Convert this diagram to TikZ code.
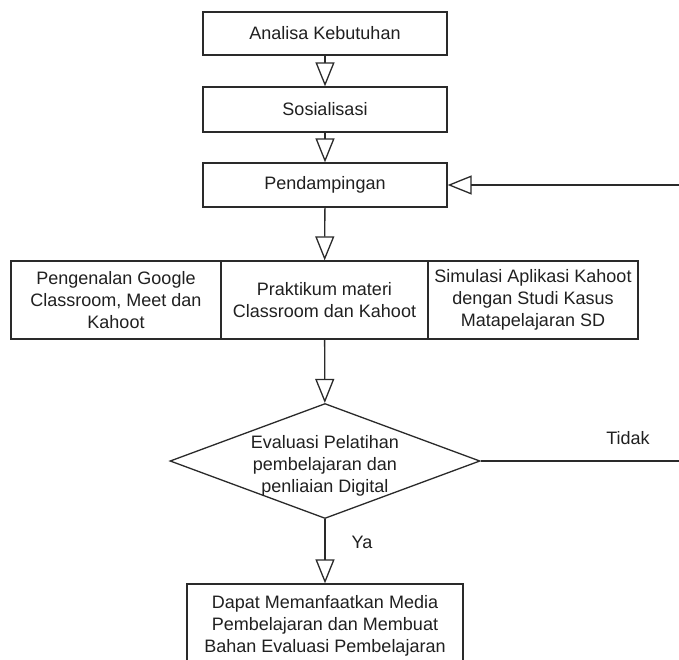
\documentclass[tikz,border=0pt]{standalone}
\usepackage{fontspec}
\setmainfont{Liberation Sans}
\usetikzlibrary{arrows.meta,shapes.geometric}
\definecolor{ln}{HTML}{2A2A2A}
\definecolor{tx}{HTML}{202020}
\begin{document}
\begin{tikzpicture}[x=1pt,y=-1pt,
  every node/.style={font=\fontsize{18}{22}\selectfont, text=tx},
  stepbox/.style={draw=ln, line width=1.3pt, align=center, inner sep=0pt},
  decision/.style={draw=ln, line width=1.3pt, diamond, aspect=2.7, inner xsep=-5pt, inner ysep=-5pt, align=center, minimum width=310pt, minimum height=115pt},
  flow/.style={draw=ln, line width=1.3pt, -{Triangle[open, length=24pt, width=19pt, line width=1.3pt]}},
  plain/.style={draw=ln, line width=1.3pt},
  lbl/.style={inner sep=0pt}]
\clip (0,0) rectangle (679,659);
\fill[white] (0,0) rectangle (679,659);

\node[stepbox, minimum width=244pt, minimum height=43pt] (b1) at (325,33.5) {Analisa Kebutuhan};
\node[stepbox, minimum width=244pt, minimum height=45pt] (b2) at (325,109.5) {Sosialisasi};
\node[stepbox, minimum width=244pt, minimum height=44pt] (b3) at (325,185) {Pendampingan};

\node[stepbox, minimum width=210pt, minimum height=78pt] (c1) at (116,300) {Pengenalan Google\\Classroom, Meet dan\\Kahoot};
\node[stepbox, minimum width=207pt, minimum height=78pt] (c2) at (324.5,300) {Praktikum materi\\Classroom dan Kahoot};
\node[stepbox, minimum width=210pt, minimum height=78pt] (c3) at (533,300) {Simulasi Aplikasi Kahoot\\dengan Studi Kasus\\Matapelajaran SD};

\node[decision] (d) at (325,461) {\rule{0pt}{23pt}Evaluasi Pelatihan\\pembelajaran dan\\penliaian Digital};

\node[stepbox, minimum width=276pt, minimum height=84pt] (f) at (325,626) {Dapat Memanfaatkan Media\\Pembelajaran dan Membuat\\Bahan Evaluasi Pembelajaran};

\coordinate (r1) at (679,185);
\coordinate (r2) at (679,461);

\draw[flow] (b1) -- (b2);
\draw[flow] (b2) -- (b3);
\draw[flow] (b3) -- (c2);
\draw[flow] (c2) -- (d);
\draw[flow] (d) -- (f);
\draw[plain] (d.east) -- (r2);
\draw[flow] (r1) -- (b3.east);

\node[lbl] (tidak) at (628,438) {Tidak};
\node[lbl] (ya) at (362,542) {Ya};
\end{tikzpicture}
\end{document}
